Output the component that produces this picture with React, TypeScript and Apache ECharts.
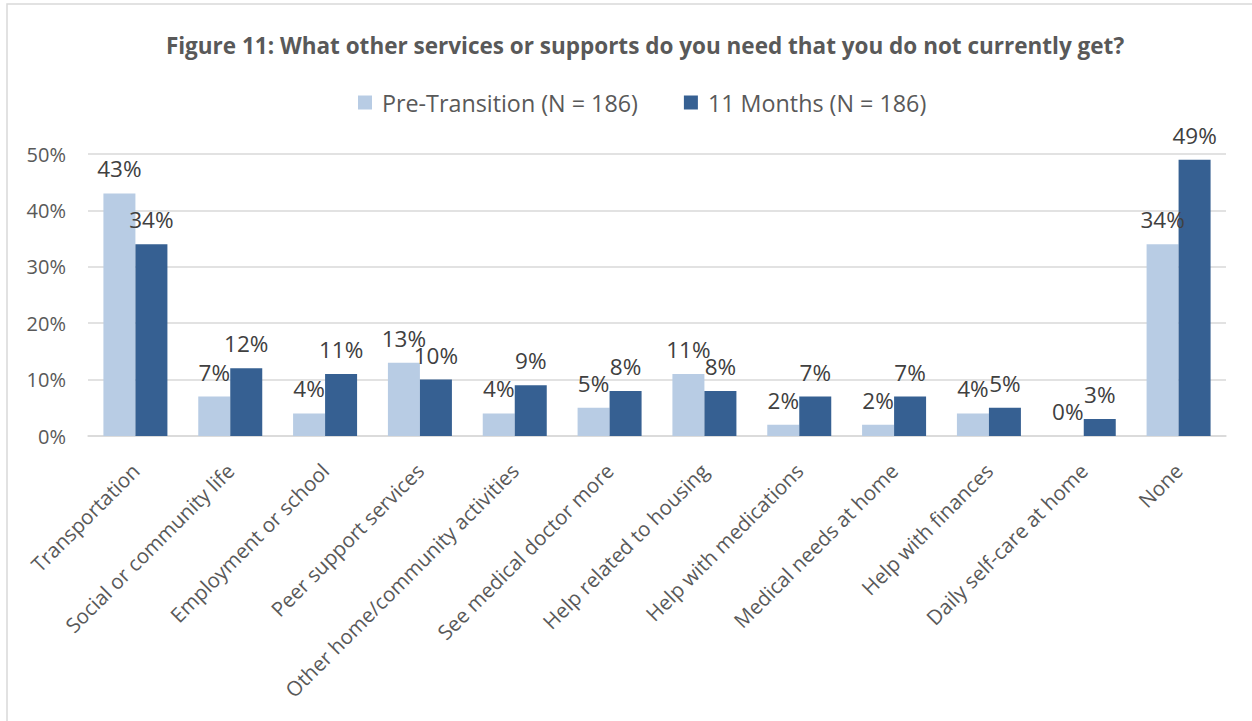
import React, { useEffect, useRef } from "react";
import * as echarts from "echarts";

const categories = [
  "Transportation",
  "Social or community life",
  "Employment or school",
  "Peer support services",
  "Other home/community activities",
  "See medical doctor more",
  "Help related to housing",
  "Help with medications",
  "Medical needs at home",
  "Help with finances",
  "Daily self-care at home",
  "None",
];
const preTransition = [43, 7, 4, 13, 4, 5, 11, 2, 2, 4, 0, 34];
const elevenMonths = [34, 12, 11, 10, 9, 8, 8, 7, 7, 5, 3, 49];
const seriesNames = ["Pre-Transition (N = 186)", "11 Months (N = 186)"];
const titleText = "Figure 11: What other services or supports do you need that you do not currently get?";

const FONT = "'Open Sans', 'DejaVu Sans', sans-serif";

export default function App() {
  const ref = useRef<HTMLDivElement>(null);
  useEffect(() => {
    document.body.style.margin = "0";
    const chart = echarts.init(ref.current!, null, { renderer: "svg" });
    const labelCfg = {
      show: true,
      position: "top",
      distance: 13,
      formatter: "{c}%",
      color: "#404040",
      fontSize: 22.5,
      fontFamily: FONT,
    };
    chart.setOption({
      animation: false,
      backgroundColor: "#ffffff",
      graphic: [
        {
          type: "rect",
          silent: true,
          shape: { x: 7, y: 4, width: 1300, height: 800 },
          style: { fill: "none", stroke: "#d9d9d9", lineWidth: 1.5 },
        },
      ],
      title: {
        text: titleText,
        left: 640,
        top: 29,
        textAlign: "center",
        textStyle: {
          fontFamily: FONT,
          fontWeight: "bold",
          fontSize: 22.5,
          color: "#595959",
        },
      },
      legend: {
        top: 86,
        left: 353,
        itemWidth: 14,
        itemHeight: 14,
        itemGap: 46,
        icon: "rect",
        textStyle: {
          fontFamily: FONT,
          fontSize: 23.3,
          color: "#595959",
          padding: [0, 0, 0, 5],
        },
        data: seriesNames,
      },
      grid: { left: 88, right: 26, top: 154, bottom: 285, containLabel: false },
      xAxis: {
        type: "category",
        data: categories,
        axisLine: { lineStyle: { color: "#d9d9d9", width: 1.5 } },
        axisTick: { show: false },
        axisLabel: {
          rotate: 45,
          interval: 0,
          margin: 31,
          fontFamily: FONT,
          fontSize: 20.5,
          color: "#595959",
        },
      },
      yAxis: {
        type: "value",
        min: 0,
        max: 50,
        interval: 10,
        axisLine: { show: false },
        axisTick: { show: false },
        splitLine: { lineStyle: { color: "#d9d9d9", width: 1.5 } },
        axisLabel: {
          formatter: "{value}%",
          margin: 22,
          fontFamily: FONT,
          fontSize: 20,
          color: "#595959",
        },
      },
      series: [
        {
          name: seriesNames[0],
          type: "bar",
          data: preTransition,
          barWidth: 32,
          barGap: "0%",
          itemStyle: { color: "#B8CCE4" },
          label: labelCfg,
        },
        {
          name: seriesNames[1],
          type: "bar",
          data: elevenMonths,
          barWidth: 32,
          barGap: "0%",
          itemStyle: { color: "#366092" },
          label: labelCfg,
        },
      ],
    });
    return () => chart.dispose();
  }, []);
  return <div ref={ref} style={{ width: 1252, height: 721 }} />;
}
